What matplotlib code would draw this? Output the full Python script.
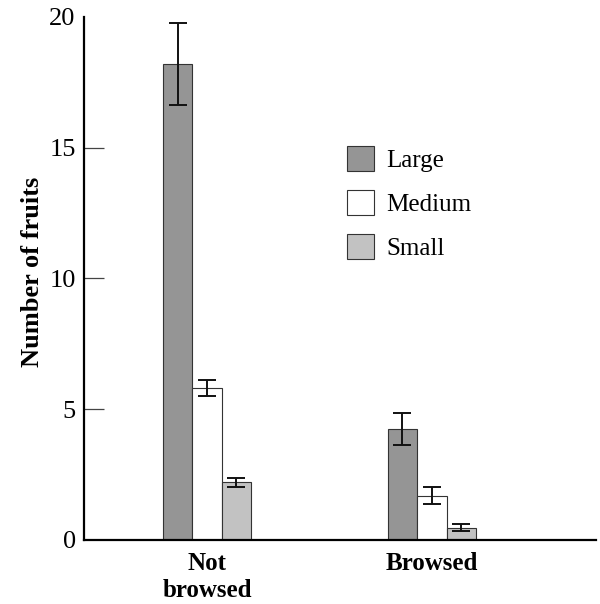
import matplotlib
matplotlib.use("Agg")
import matplotlib.pyplot as plt
import numpy as np

groups = ["Not\nbrowsed", "Browsed"]
sizes = ["Large", "Medium", "Small"]
means = {
    "Large": [18.2, 4.25],
    "Medium": [5.8, 1.7],
    "Small": [2.2, 0.47],
}
errors = {
    "Large": [1.55, 0.62],
    "Medium": [0.3, 0.31],
    "Small": [0.16, 0.13],
}
colors = {"Large": "#959595", "Medium": "#ffffff", "Small": "#c2c2c2"}
yticks = [0, 5, 10, 15, 20]

plt.rcParams['font.family'] = ['Liberation Serif', 'DejaVu Serif']

fig = plt.figure(figsize=(6.0, 6.04), dpi=100)
ax = fig.add_axes([0.14, 0.106, 0.853, 0.866])

x = np.arange(len(groups))
w = 0.131
for i, s in enumerate(sizes):
    ax.bar(x + (i - 1) * w, means[s], width=w, color=colors[s],
           edgecolor="#333333", linewidth=0.8, label=s,
           yerr=errors[s], capsize=6.5,
           error_kw=dict(ecolor="#111111", elinewidth=1.4, capthick=1.4))

ax.set_xlim(-0.547, 1.729)
ax.set_ylim(0, 20)
ax.set_yticks(yticks)
ax.set_yticklabels([str(t) for t in yticks], fontsize=19)
ax.set_xticks(x)
ax.set_xticklabels(groups, fontsize=18, fontweight='bold', linespacing=1.2)
ax.tick_params(axis='y', direction='in', length=14.5, width=0.9, color="#444444", pad=6)
ax.tick_params(axis='x', length=0, pad=9)
ticklines = ax.yaxis.get_major_ticks()
for t in (ticklines[0], ticklines[-1]):
    t.tick1line.set_visible(False)

for sp in ['top', 'right']:
    ax.spines[sp].set_visible(False)
for sp in ['left', 'bottom']:
    ax.spines[sp].set_linewidth(1.6)
    ax.spines[sp].set_color("black")

ax.set_ylabel("Number of fruits", fontsize=19, fontweight='bold', labelpad=4)
ax.yaxis.label.set_y(0.512)

leg = ax.legend(loc='upper left', bbox_to_anchor=(347/600, 1 - 146/604),
                bbox_transform=fig.transFigure, frameon=False, fontsize=18,
                handlelength=1.08, handleheight=1.18, handletextpad=0.5,
                labelspacing=0.72, borderpad=0, borderaxespad=0)

fig.savefig("out.png", dpi=100)
